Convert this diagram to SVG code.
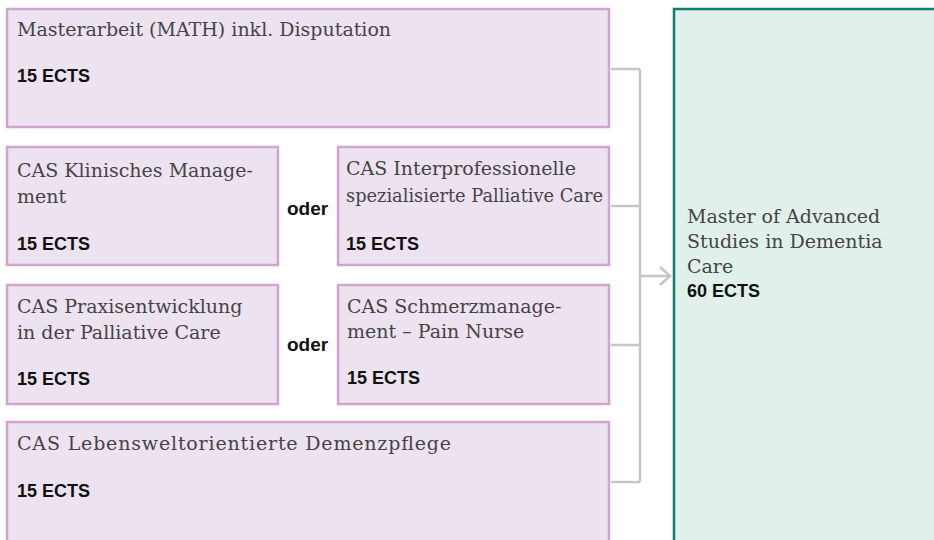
<svg xmlns="http://www.w3.org/2000/svg" width="934" height="540" viewBox="0 0 934 540">
<style>
.box{fill:#ede2f0;stroke:#d0a6d0;stroke-width:2.5}
.goal{fill:#e1f0ea;stroke:#0e7d6b;stroke-width:2.5}
.t{font-family:"DejaVu Serif","Liberation Serif",serif;font-size:19px;fill:#444}
.b{font-family:"Liberation Sans",Arial,sans-serif;font-size:18px;font-weight:bold;fill:#111}
.con{fill:none;stroke:#c6c6c6;stroke-width:2.5}
</style>
<rect width="934" height="540" fill="#fff"/>
<g id="connectors">
<path class="con" d="M611 69H640M611 206H640M611 345H640M611 482H640M640 69V482M640 276H670M660 267L670 276L660 285"/>
</g>
<g id="n_master">
<rect class="box" x="7" y="9" width="602" height="118"/>
<text class="t" x="17" y="36">Masterarbeit (MATH) inkl. Disputation</text>
<text class="b" x="17" y="82">15 ECTS</text>
</g>
<g id="n_klin">
<rect class="box" x="7" y="147" width="271" height="118"/>
<text class="t" x="17" y="177">CAS Klinisches Manage-</text>
<text class="t" x="17" y="203">ment</text>
<text class="b" x="17" y="250">15 ECTS</text>
</g>
<g id="n_oder1"><text class="b" x="287" y="215" style="font-size:19px">oder</text></g>
<g id="n_palli">
<rect class="box" x="338" y="147" width="271" height="118"/>
<text class="t" x="346" y="175">CAS Interprofessionelle</text>
<text class="t" x="346" y="202" textLength="257" lengthAdjust="spacingAndGlyphs">spezialisierte Palliative Care</text>
<text class="b" x="346" y="250">15 ECTS</text>
</g>
<g id="n_praxis">
<rect class="box" x="7" y="285" width="271" height="119"/>
<text class="t" x="17" y="313">CAS Praxisentwicklung</text>
<text class="t" x="17" y="339">in der Palliative Care</text>
<text class="b" x="17" y="385">15 ECTS</text>
</g>
<g id="n_oder2"><text class="b" x="287" y="351" style="font-size:19px">oder</text></g>
<g id="n_schmerz">
<rect class="box" x="338" y="285" width="271" height="119"/>
<text class="t" x="347" y="313">CAS Schmerzmanage-</text>
<text class="t" x="347" y="338">ment – Pain Nurse</text>
<text class="b" x="347" y="384">15 ECTS</text>
</g>
<g id="n_demenz">
<rect class="box" x="7" y="422" width="602" height="140"/>
<text class="t" x="17" y="450" textLength="434">CAS Lebensweltorientierte Demenzpflege</text>
<text class="b" x="17" y="497">15 ECTS</text>
</g>
<g id="n_mas">
<rect class="goal" x="674" y="9" width="300" height="600"/>
<text class="t" x="687" y="223">Master of Advanced</text>
<text class="t" x="687" y="248">Studies in Dementia</text>
<text class="t" x="687" y="273">Care</text>
<text class="b" x="687" y="297">60 ECTS</text>
</g>
</svg>
